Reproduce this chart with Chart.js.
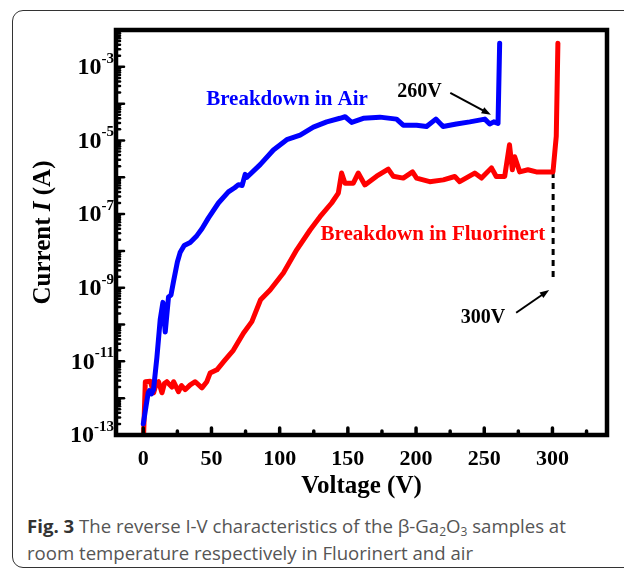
<!DOCTYPE html>
<html>
<head>
<meta charset="utf-8">
<script src="https://cdn.jsdelivr.net/npm/chart.js@4.4.1/dist/chart.umd.min.js"></script>
<style>
  body { margin: 0; background: #fff; overflow: hidden; }
  #fig {
    position: absolute; left: 12px; top: 10px; width: 700px; height: 556px;
    border: 1.5px solid #333; border-radius: 11px;
  }
  #wrap { position: absolute; left: 0; top: 0; width: 624px; height: 505px; }
  #caption {
    position: absolute; left: 27px; top: 512px;
    font-family: "Open Sans", sans-serif; font-size: 18.6px; line-height: 27px; color: #555;
  }
  #caption b { color: #333; }
  #caption sub { font-size: 12px; line-height: 0; vertical-align: -3px; }
</style>
</head>
<body>
<div id="fig"></div>
<div id="wrap"><canvas id="chart" width="624" height="505"></canvas></div>
<div id="caption"><b>Fig. 3</b> The reverse I-V characteristics of the β-Ga<sub>2</sub>O<sub>3</sub> samples at<br>room temperature respectively in Fluorinert and air</div>
<script>
// Breakdown in air (blue)
const airVoltage = [0, 2, 3.6, 4.5, 6, 7.5, 10, 12.4, 14.4, 16.1, 18.5, 20.3, 22.2, 25, 27, 30, 34.4, 39.3, 43, 47.8,
  55.1, 62.4, 67, 69.8, 72.5, 74.7, 76, 85.7, 95.4, 105.2, 115, 124.7, 134.5, 144.2, 148, 152.8, 161.3,
  173.5, 185.7, 190.6, 200.4, 207.7, 214.5, 219.8, 229.6, 239.4, 250.4, 254, 257, 260.1, 261.3];
const airCurrent = [2e-13, 6e-13, 1.4e-12, 1.6e-12, 1.3e-12, 1.7e-12, 1.3e-11, 1.35e-10, 4e-10, 6.3e-11, 5.6e-10, 6.3e-10,
  1.5e-9, 5e-9, 9e-9, 1.4e-8, 1.7e-8, 2.6e-8, 4e-8, 7.9e-8,
  2e-7, 4e-7, 5.2e-7, 6.3e-7, 6e-7, 1.2e-6, 1e-6, 2.2e-6, 5.5e-6, 1.05e-5, 1.4e-5, 2.3e-5, 3.2e-5, 4e-5, 4.4e-5, 3.1e-5, 4e-5,
  4.3e-5, 3.8e-5, 2.6e-5, 2.6e-5, 2.4e-5, 3.8e-5, 2.4e-5, 2.8e-5, 3.2e-5, 3.8e-5, 2.8e-5, 3.2e-5, 2.9e-5, 4.4e-3];

// Breakdown in Fluorinert (red)
const fluVoltage = [0, 0.3, 1.5, 5.1, 7.6, 9.5, 11.2, 13.7, 15.5, 17.3, 21, 22.2, 25.8, 28, 30.7, 34.4, 38.1, 43, 46.6,
  49, 54, 60, 66, 73.4, 79.6, 86, 93, 102.7, 112.5, 122.3, 129.6, 138.1, 143, 145.4, 147.9, 154, 157.6, 162.5,
  171.1, 179.6, 183.2, 190.6, 197.4, 200.4, 210, 220, 228.4, 232, 243, 248, 255.3, 258.8, 265, 268.5, 270.6,
  272.3, 276, 282, 288.2, 300.4, 302.8, 304];
const fluCurrent = [1e-13, 1.2e-13, 2.8e-12, 2.9e-12, 1.4e-12, 2.5e-12, 2.8e-12, 1.4e-12, 2.5e-12, 2.8e-12, 2e-12, 2.8e-12,
  1.5e-12, 2.2e-12, 1.7e-12, 2.3e-12, 2.8e-12, 1.9e-12, 2.8e-12,
  4.8e-12, 5.9e-12, 1.1e-11, 2e-11, 5.8e-11, 1.2e-10, 4.7e-10, 8.7e-10, 2.5e-9, 1.07e-8, 3.7e-8, 8.5e-8, 2e-7, 3.7e-7,
  1.3e-6, 6.9e-7, 6.9e-7, 1.3e-6, 6.2e-7,
  1.07e-6, 1.66e-6, 1.07e-6, 9.5e-7, 1.4e-6, 9.5e-7, 7.6e-7, 8.5e-7, 1.05e-6, 7.6e-7, 1.3e-6, 9.5e-7, 1.8e-6, 1.05e-6,
  1.05e-6, 7.6e-6, 1.6e-6, 3.6e-6, 1.4e-6, 1.6e-6, 1.4e-6, 1.4e-6, 1.3e-5, 4.4e-3];

// dashed marker below the 300 V breakdown
const markerVoltage = [300.5, 300.5];
const markerCurrent = [1.4e-6, 1.9e-9];

const xTickValues = [0, 50, 100, 150, 200, 250, 300];
const xMinorValues = [25, 75, 125, 175, 225, 275, 325];
const yTickExponents = [-3, -5, -7, -9, -11, -13];

const toPoints = (xs, ys) => xs.map((x, i) => ({ x, y: ys[i] }));
const serif = '"Liberation Serif", "Times New Roman", serif';

const drawArrow = (ctx, x1, y1, x2, y2) => {
  const ang = Math.atan2(y2 - y1, x2 - x1);
  const head = 10;
  ctx.beginPath();
  ctx.moveTo(x1, y1);
  ctx.lineTo(x2 - Math.cos(ang) * head * 0.8, y2 - Math.sin(ang) * head * 0.8);
  ctx.lineWidth = 2;
  ctx.stroke();
  ctx.beginPath();
  ctx.moveTo(x2, y2);
  ctx.lineTo(x2 - head * Math.cos(ang - 0.35), y2 - head * Math.sin(ang - 0.35));
  ctx.lineTo(x2 - head * Math.cos(ang + 0.35), y2 - head * Math.sin(ang + 0.35));
  ctx.closePath();
  ctx.fill();
};

// frame, inward ticks, y labels with superscripts, y title and annotations
const decorations = {
  id: "decorations",
  afterDatasetsDraw(chart) {
    const { ctx, chartArea: area, scales } = chart;
    const xs = scales.x;
    const ys = scales.y;
    ctx.save();
    ctx.strokeStyle = "#000";
    ctx.fillStyle = "#000";
    ctx.lineCap = "round";

    // x ticks pointing up
    ctx.lineWidth = 3.5;
    xTickValues.forEach((v) => {
      const px = xs.getPixelForValue(v);
      ctx.beginPath(); ctx.moveTo(px, area.bottom); ctx.lineTo(px, area.bottom - 7); ctx.stroke();
    });
    xMinorValues.forEach((v) => {
      const px = xs.getPixelForValue(v);
      ctx.beginPath(); ctx.moveTo(px, area.bottom); ctx.lineTo(px, area.bottom - 4); ctx.stroke();
    });

    // y ticks pointing right
    ctx.lineWidth = 2.5;
    for (let e = -13; e <= -2; e++) {
      const py = ys.getPixelForValue(Math.pow(10, e));
      ctx.beginPath(); ctx.moveTo(area.left, py); ctx.lineTo(area.left + 8, py); ctx.stroke();
      if (e === -2) break;
      for (let m = 2; m <= 9; m++) {
        const pm = ys.getPixelForValue(m * Math.pow(10, e));
        ctx.beginPath(); ctx.moveTo(area.left, pm); ctx.lineTo(area.left + 4, pm); ctx.stroke();
      }
    }

    // frame
    ctx.lineCap = "butt";
    ctx.lineWidth = 4.5;
    ctx.strokeRect(area.left, area.top, area.right - area.left, area.bottom - area.top);

    // y tick labels 10^-n
    ctx.textBaseline = "middle";
    yTickExponents.forEach((e) => {
      const py = ys.getPixelForValue(Math.pow(10, e));
      const sup = "-" + Math.abs(e);
      ctx.font = "bold 15px " + serif;
      const supW = ctx.measureText(sup).width;
      const right = area.left - 2;
      ctx.textAlign = "left";
      ctx.fillText(sup, right - supW, py - 8);
      ctx.font = "bold 24px " + serif;
      ctx.textAlign = "right";
      ctx.fillText("10", right - supW, py + 1);
    });

    // y title "Current I (A)" with italic I
    ctx.save();
    ctx.translate(44, (area.top + area.bottom) / 2);
    ctx.rotate(-Math.PI / 2);
    const parts = [["Current ", "bold"], ["I", "italic bold"], [" (A)", "bold"]];
    let total = 0;
    parts.forEach((p) => { ctx.font = p[1] + " 25px " + serif; total += ctx.measureText(p[0]).width; });
    let cx = -total / 2;
    ctx.textAlign = "left";
    parts.forEach((p) => {
      ctx.font = p[1] + " 25px " + serif;
      ctx.fillText(p[0], cx, 0);
      cx += ctx.measureText(p[0]).width;
    });
    ctx.restore();

    // annotations
    const px = (v) => xs.getPixelForValue(v);
    const py = (e) => ys.getPixelForValue(Math.pow(10, e));
    ctx.textAlign = "center";
    ctx.font = "bold 21px " + serif;
    ctx.fillStyle = "#0000ff";
    ctx.fillText("Breakdown in Air", px(105.4), py(-3.9));
    ctx.fillStyle = "#ff0000";
    ctx.fillText("Breakdown in Fluorinert", px(212.3), py(-7.57));
    ctx.fillStyle = "#000";
    ctx.font = "bold 20px " + serif;
    ctx.fillText("260V", px(202.5), py(-3.68));
    ctx.fillText("300V", px(249), py(-9.82));
    drawArrow(ctx, px(225.1), py(-3.71), px(254.9), py(-4.3));
    drawArrow(ctx, px(273.4), py(-9.68), px(297.6), py(-9.06));
    ctx.restore();
  },
};

new Chart(document.getElementById("chart"), {
  type: "line",
  data: {
    datasets: [
      {
        label: "Breakdown in Air",
        data: toPoints(airVoltage, airCurrent),
        borderColor: "#0000ff",
        borderWidth: 5,
      },
      {
        label: "Breakdown in Fluorinert",
        data: toPoints(fluVoltage, fluCurrent),
        borderColor: "#ff0000",
        borderWidth: 5,
      },
      {
        label: "300V marker",
        data: toPoints(markerVoltage, markerCurrent),
        borderColor: "#000",
        borderWidth: 3,
        borderDash: [6, 5],
        borderCapStyle: "butt",
      },
    ],
  },
  options: {
    responsive: false,
    animation: false,
    elements: {
      point: { radius: 0 },
      line: { tension: 0, borderJoinStyle: "round", borderCapStyle: "round" },
    },
    layout: { padding: { left: 0, right: 17, top: 30, bottom: 0 } },
    plugins: { legend: { display: false }, tooltip: { enabled: false } },
    scales: {
      x: {
        type: "linear",
        min: -20,
        max: 340,
        afterBuildTicks: (s) => { s.ticks = xTickValues.map((v) => ({ value: v })); },
        afterFit: (s) => { s.height = 70; },
        grid: { display: false, drawTicks: false },
        border: { display: false },
        ticks: { color: "#000", padding: 11, font: { family: serif, size: 22, weight: "bold" } },
        title: {
          display: true,
          text: "Voltage (V)",
          color: "#000",
          padding: { top: 0, bottom: 3 },
          font: { family: serif, size: 25, weight: "bold" },
        },
      },
      y: {
        type: "logarithmic",
        min: 1e-13,
        max: 1e-2,
        afterFit: (s) => { s.width = 116; },
        grid: { display: false, drawTicks: false },
        border: { display: false },
        ticks: { display: false },
      },
    },
  },
  plugins: [decorations],
});
</script>
</body>
</html>
